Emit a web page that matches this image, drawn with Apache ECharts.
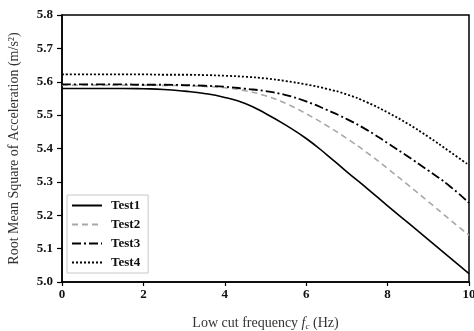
<!DOCTYPE html>
<html>
<head>
<meta charset="utf-8">
<script src="https://cdn.jsdelivr.net/npm/echarts@6/dist/echarts.min.js"></script>
<style>
  html, body { margin: 0; padding: 0; background: #fff; }
  #chart { width: 474px; height: 331px; }
</style>
</head>
<body>
<div id="chart"></div>
<script>
// Low cut frequency (Hz)
const freq = [0, 0.5, 1, 1.5, 2, 2.5, 3, 3.5, 4, 4.5, 5, 5.5, 6, 6.5, 7, 7.5, 8, 8.5, 9, 9.5, 10];

// RMS acceleration (m/s^2) for each test
const test1 = [5.580, 5.580, 5.580, 5.580, 5.579, 5.577, 5.572, 5.565, 5.553, 5.535, 5.505, 5.470, 5.430, 5.382, 5.330, 5.280, 5.228, 5.178, 5.127, 5.076, 5.025];
const test2 = [5.590, 5.590, 5.590, 5.590, 5.590, 5.589, 5.588, 5.586, 5.582, 5.573, 5.558, 5.535, 5.504, 5.469, 5.430, 5.387, 5.340, 5.291, 5.241, 5.190, 5.140];
const test3 = [5.592, 5.592, 5.592, 5.592, 5.591, 5.591, 5.590, 5.588, 5.585, 5.579, 5.572, 5.560, 5.541, 5.516, 5.488, 5.455, 5.416, 5.376, 5.334, 5.290, 5.237];
const test4 = [5.622, 5.622, 5.622, 5.622, 5.622, 5.621, 5.621, 5.620, 5.618, 5.615, 5.610, 5.602, 5.592, 5.579, 5.562, 5.538, 5.508, 5.474, 5.435, 5.393, 5.350];

const seriesNames = ['Test1', 'Test2', 'Test3', 'Test4'];
const xTicks = [0, 2, 4, 6, 8, 10];
const yTicks = [5.0, 5.1, 5.2, 5.3, 5.4, 5.5, 5.6, 5.7, 5.8];

const serif = '"Liberation Serif", "DejaVu Serif", serif';

function pairs(ys) {
  return freq.map((x, i) => [x, ys[i]]);
}

const styles = [
  { color: '#000000', width: 1.6, type: 'solid' },
  { color: '#a8a8a8', width: 1.6, type: [6, 4] },
  { color: '#000000', width: 1.8, type: [9, 3, 2, 3] },
  { color: '#000000', width: 1.8, type: [2, 2] }
];

const dataSets = [test1, test2, test3, test4];

const chart = echarts.init(document.getElementById('chart'), null, { renderer: 'canvas' });

chart.setOption({
  animation: false,
  backgroundColor: '#ffffff',
  grid: {
    left: 62, right: 5, top: 15, bottom: 49,
    containLabel: false,
    outerBoundsMode: 'none',
    show: true, borderColor: '#000', borderWidth: 1.5
  },
  legend: {
    orient: 'vertical',
    left: 67, top: 195,
    padding: [4, 8, 4, 4],
    itemGap: 6,
    itemWidth: 30,
    itemHeight: 13,
    backgroundColor: '#fff',
    borderColor: '#c8c8c8',
    borderWidth: 1,
    itemStyle: { opacity: 0 },
    textStyle: { fontFamily: serif, fontWeight: 'bold', fontSize: 13, color: '#111', padding: [0, 0, 0, 4] },
    data: seriesNames
  },
  xAxis: {
    type: 'value',
    min: 0, max: 10, interval: 2,
    name: '{n|Low cut frequency }{i|f}{s|c}{n| (Hz)}',
    nameLocation: 'middle',
    nameGap: 33,
    nameTextStyle: {
      rich: {
        n: { fontFamily: serif, fontSize: 14, color: '#333' },
        i: { fontFamily: serif, fontSize: 14, fontStyle: 'italic', color: '#333' },
        s: { fontFamily: serif, fontSize: 9, fontStyle: 'italic', color: '#333', verticalAlign: 'bottom', padding: [7, 0, 0, 0] }
      }
    },
    axisLine: { show: true, lineStyle: { color: '#000', width: 1.5 } },
    axisTick: { show: true, inside: false, length: 4, lineStyle: { color: '#000', width: 1.2 } },
    axisLabel: {
      fontFamily: serif, fontWeight: 'bold', fontSize: 13, color: '#111', margin: 6,
      formatter: v => (xTicks.indexOf(v) >= 0 ? String(v) : '')
    },
    splitLine: { show: false }
  },
  yAxis: {
    type: 'value',
    min: 5.0, max: 5.8, interval: 0.1,
    name: 'Root Mean Square of Acceleration (m/s²)',
    nameLocation: 'middle',
    nameGap: 41,
    nameTextStyle: { fontFamily: serif, fontSize: 14, color: '#333' },
    axisLine: { show: true, lineStyle: { color: '#000', width: 1.5 } },
    axisTick: { show: true, inside: false, length: 5, lineStyle: { color: '#000', width: 1.2 } },
    axisLabel: {
      fontFamily: serif, fontWeight: 'bold', fontSize: 13, color: '#111', margin: 9,
      formatter: v => {
        const t = yTicks.find(y => Math.abs(y - v) < 1e-6);
        return t === undefined ? '' : t.toFixed(1);
      }
    },
    splitLine: { show: false }
  },
  series: seriesNames.map((name, k) => ({
    name: name,
    type: 'line',
    data: pairs(dataSets[k]),
    smooth: true,
    showSymbol: false,
    symbol: 'none',
    color: styles[k].color,
    lineStyle: { color: styles[k].color, width: styles[k].width, type: styles[k].type }
  }))
});
</script>
</body>
</html>
